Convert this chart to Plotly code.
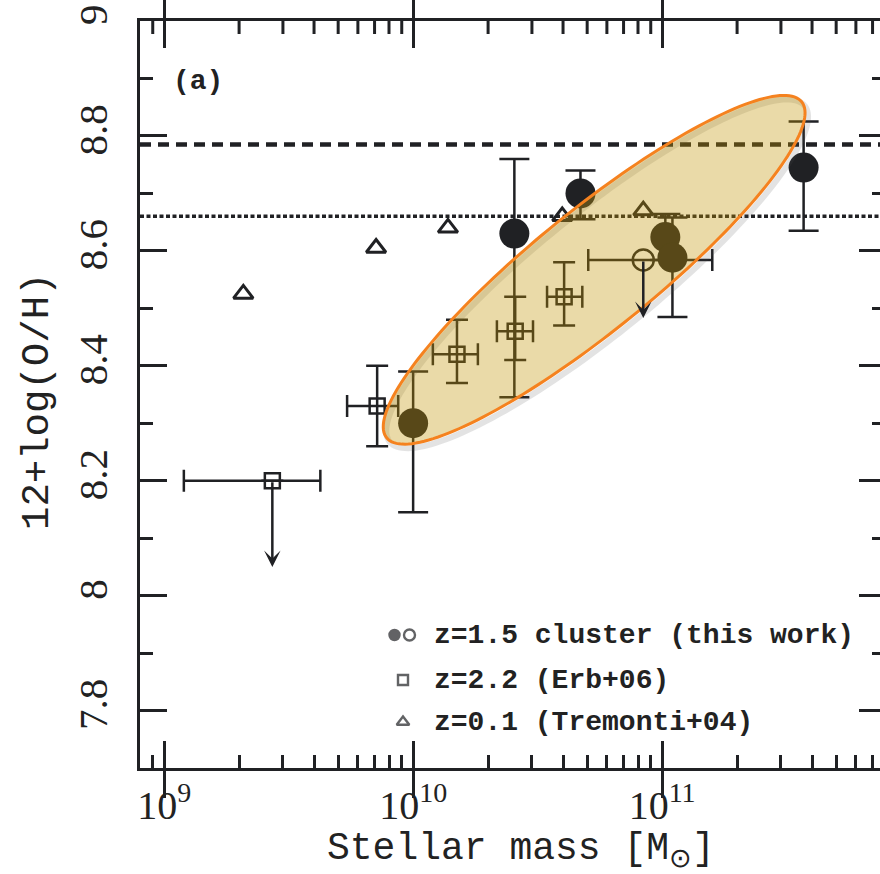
import numpy as np
import plotly.graph_objects as go

# ---------------- data ----------------
# z=1.5 cluster (this work): filled circles
cluster_mass = [1.0e10, 2.55e10, 4.7e10, 1.03e11, 1.10e11, 3.7e11]
cluster_oh = [8.30, 8.63, 8.70, 8.624, 8.588, 8.745]
cluster_err_up = [0.09, 0.13, 0.04, 0.04, 0.07, 0.08]
cluster_err_down = [0.155, 0.285, 0.045, 0.04, 0.103, 0.11]

# z=1.5 cluster stacked point (open circle, upper limit)
stack_mass = [8.4e10]
stack_oh = [8.584]
stack_mass_lo = [5.05e10]
stack_mass_hi = [1.59e11]
stack_limit_tip = [8.483]

# z=2.2 (Erb+06): open squares
erb_mass = [2.72e9, 7.17e9, 1.50e10, 2.57e10, 4.04e10]
erb_oh = [8.20, 8.33, 8.42, 8.46, 8.52]
erb_mass_lo = [1.20e9, 5.43e9, 1.20e10, 2.17e10, 3.45e10]
erb_mass_hi = [4.24e9, 8.71e9, 1.82e10, 3.03e10, 4.78e10]
erb_err_up = [None, 0.07, 0.06, 0.06, 0.06]
erb_err_down = [None, 0.07, 0.05, 0.05, 0.05]
erb_is_limit = [True, False, False, False, False]
erb_limit_tip = [8.05, None, None, None, None]

# z=0.1 (Tremonti+04): open triangles
trem_mass = [2.08e9, 7.1e9, 1.38e10, 3.97e10, 8.4e10]
trem_oh = [8.525, 8.605, 8.64, 8.66, 8.67]

# reference horizontal levels
dashed_level = 8.785
dotted_level = 8.66

x_tick_vals = [1e9, 1e10, 1e11]
x_tick_text = ["10<sup>9</sup>", "10<sup>10</sup>", "10<sup>11</sup>"]
y_tick_vals = [7.8, 8.0, 8.2, 8.4, 8.6, 8.8, 9.0]
y_tick_text = ["7.8", "8", "8.2", "8.4", "8.6", "8.8", "9"]
y_minor_vals = [7.9, 8.1, 8.3, 8.5, 8.7, 8.9]

legend_labels = ["z=1.5 cluster (this work)", "z=2.2 (Erb+06)", "z=0.1 (Tremonti+04)"]

# ---------------- layout geometry ----------------
W, H = 880, 874
ML, MR, MT, MB = 140, 0, 21, 106
PW, PH = W - ML - MR, H - MT - MB
XMIN_LOG = np.log10(8e8)
PX_PER_DEC = 249.0
XMAX_LOG = XMIN_LOG + PW / PX_PER_DEC
Y_RANGE = [7.7, 9.0]

INK = "#202124"
TXT = "#222222"
MONO = "Liberation Mono"

def paper_x(px):
    return (px - ML) / PW

def paper_y(py):
    return (H - MB - py) / PH

x_minor_vals = [k * 10.0 ** n for n in range(8, 12) for k in range(2, 10)
                if XMIN_LOG < np.log10(k * 10.0 ** n) < XMAX_LOG]

fig = go.Figure()

# Tremonti triangles
fig.add_trace(go.Scatter(
    x=trem_mass, y=trem_oh, mode="markers",
    marker=dict(symbol="triangle-up-open", size=17, color=INK, line=dict(width=3, color=INK)),
    showlegend=False, hoverinfo="skip"))

# Erb squares with error bars
erb_xp = [h - m for h, m in zip(erb_mass_hi, erb_mass)]
erb_xm = [m - l for m, l in zip(erb_mass, erb_mass_lo)]
fig.add_trace(go.Scatter(
    x=erb_mass, y=erb_oh, mode="markers",
    marker=dict(symbol="square-open", size=15, color=INK, line=dict(width=2.5, color=INK)),
    error_x=dict(type="data", symmetric=False, array=erb_xp, arrayminus=erb_xm,
                 color=INK, thickness=2.5, width=11),
    error_y=dict(type="data", symmetric=False, array=erb_err_up, arrayminus=erb_err_down,
                 color=INK, thickness=2.5, width=11),
    showlegend=False, hoverinfo="skip"))

# stacked open circle
fig.add_trace(go.Scatter(
    x=stack_mass, y=stack_oh, mode="markers",
    marker=dict(symbol="circle-open", size=21, color=INK, line=dict(width=2.5, color=INK)),
    error_x=dict(type="data", symmetric=False,
                 array=[h - m for h, m in zip(stack_mass_hi, stack_mass)],
                 arrayminus=[m - l for m, l in zip(stack_mass, stack_mass_lo)],
                 color=INK, thickness=2.5, width=11),
    showlegend=False, hoverinfo="skip"))

# cluster filled circles
fig.add_trace(go.Scatter(
    x=cluster_mass, y=cluster_oh, mode="markers",
    marker=dict(symbol="circle", size=30, color=INK, line=dict(width=0)),
    error_y=dict(type="data", symmetric=False, array=cluster_err_up, arrayminus=cluster_err_down,
                 color=INK, thickness=2.5, width=15),
    showlegend=False, hoverinfo="skip"))

# invisible traces that activate the extra tick axes
for xa, ya in [("x3", "y"), ("x", "y2"), ("x", "y4"), ("x", "y5")]:
    fig.add_trace(go.Scatter(x=[1e10], y=[8.5], xaxis=xa, yaxis=ya, mode="markers",
                             marker=dict(opacity=0), showlegend=False, hoverinfo="skip"))

# top-edge minor ticks, drawn on the paper-like overlay axis
top_x, top_y = [], []
for v in x_minor_vals:
    fx = (np.log10(v) - XMIN_LOG) / (XMAX_LOG - XMIN_LOG)
    top_x += [fx, fx, None]
    top_y += [1.0, 1.0 - 13.0 / PH, None]
fig.add_trace(go.Scatter(x=top_x, y=top_y, xaxis="x2", yaxis="y3", mode="lines",
                         line=dict(color=INK, width=3), showlegend=False, hoverinfo="skip"))

# legend symbols on a paper-like overlay axis
leg_y_px = [635, 680, 722]
leg_sym_x = [394.5, 409.5, 403, 403]
leg_sym_y = [leg_y_px[0], leg_y_px[0], leg_y_px[1], leg_y_px[2]]
leg_syms = ["circle", "circle-open", "square-open", "triangle-up-open"]
leg_sizes = [10, 11, 10, 11]
fig.add_trace(go.Scatter(
    x=[paper_x(v) for v in leg_sym_x], y=[paper_y(v) for v in leg_sym_y],
    xaxis="x2", yaxis="y3", mode="markers",
    marker=dict(symbol=leg_syms, size=leg_sizes, color=INK, line=dict(width=2.4, color=INK)),
    showlegend=False, hoverinfo="skip"))

shapes = []
# horizontal reference lines
shapes.append(dict(type="line", xref="paper", yref="y", x0=0, x1=1,
                   y0=dashed_level, y1=dashed_level, layer="below",
                   line=dict(color=INK, width=4.5, dash="11px,7px")))
shapes.append(dict(type="line", xref="paper", yref="y", x0=0, x1=1,
                   y0=dotted_level, y1=dotted_level, layer="below",
                   line=dict(color=INK, width=3.5, dash="4px,2.5px")))

# highlight ellipse (drawn in plot pixel geometry)
ell_c_logm, ell_c_oh = 10.727, 8.567
ell_a, ell_b, ell_ang = 267.0, 60.0, np.deg2rad(39.0)
cx_px = ML + (ell_c_logm - XMIN_LOG) * PX_PER_DEC
cy_px = MT + (Y_RANGE[1] - ell_c_oh) * PH / (Y_RANGE[1] - Y_RANGE[0])
t = np.linspace(0, 2 * np.pi, 181)
e1 = np.array([np.cos(ell_ang), -np.sin(ell_ang)])
e2 = np.array([np.sin(ell_ang), np.cos(ell_ang)])

def ellipse_path(dx=0.0, dy=0.0):
    pts_x = cx_px + dx + ell_a * np.cos(t) * e1[0] + ell_b * np.sin(t) * e2[0]
    pts_y = cy_px + dy + ell_a * np.cos(t) * e1[1] + ell_b * np.sin(t) * e2[1]
    return "M " + " L ".join(f"{paper_x(a):.5f},{paper_y(b):.5f}" for a, b in zip(pts_x, pts_y)) + " Z"

shapes.append(dict(type="path", xref="paper", yref="paper", path=ellipse_path(3, 4), layer="above",
                   fillcolor="rgba(0,0,0,0)", line=dict(color="rgba(80,80,80,0.16)", width=6)))
shapes.append(dict(type="path", xref="paper", yref="paper", path=ellipse_path(), layer="above",
                   fillcolor="rgba(194,147,2,0.345)", line=dict(color="#F5821F", width=3)))

annotations = []
# upper-limit arrows
arrow_style = dict(xref="x", yref="y", axref="x", ayref="y", text="", showarrow=True, arrowhead=3,
                   arrowsize=1.1, arrowwidth=2.5, arrowcolor=INK, standoff=0, startstandoff=0)
for m, v, lim, tip in zip(erb_mass, erb_oh, erb_is_limit, erb_limit_tip):
    if lim:
        annotations.append(dict(x=np.log10(m), y=tip, ax=np.log10(m), ay=v, **arrow_style))
for m, v, tip in zip(stack_mass, stack_oh, stack_limit_tip):
    annotations.append(dict(x=np.log10(m), y=tip, ax=np.log10(m), ay=v, **arrow_style))

# legend text
for lbl, py in zip(legend_labels, leg_y_px):
    annotations.append(dict(x=paper_x(432), y=paper_y(py), xref="paper", yref="paper",
                            xanchor="left", yanchor="middle", text="<b>" + lbl + "</b>", showarrow=False,
                            font=dict(family=MONO, size=28, color=TXT)))
# panel label
annotations.append(dict(x=paper_x(198), y=paper_y(81), xref="paper", yref="paper",
                        xanchor="center", yanchor="middle", text="<b>(a)</b>", showarrow=False,
                        font=dict(family=MONO, size=28, color=TXT)))
# axis titles
annotations.append(dict(x=paper_x(521), y=paper_y(851), xref="paper", yref="paper",
                        xanchor="center", yanchor="middle", text="Stellar mass [M<sub>⊙</sub>]",
                        showarrow=False, font=dict(family=MONO, size=38, color=TXT)))
annotations.append(dict(x=paper_x(38), y=paper_y(402), xref="paper", yref="paper",
                        xanchor="center", yanchor="middle", text="12+log(O/H)", textangle=-90,
                        showarrow=False, font=dict(family=MONO, size=39, color=TXT)))

tick_common = dict(showgrid=False, zeroline=False, ticks="inside", tickwidth=3, tickcolor=INK)
x_common = dict(type="log", range=[XMIN_LOG, XMAX_LOG], tickmode="array", **tick_common)
y_common = dict(range=Y_RANGE, tickmode="array", **tick_common)

fig.update_layout(
    width=W, height=H, margin=dict(l=ML, r=MR, t=MT, b=MB, pad=0),
    paper_bgcolor="white", plot_bgcolor="white",
    showlegend=False,
    xaxis=dict(tickvals=x_tick_vals, ticktext=x_tick_text, ticklen=27,
               showline=True, linecolor=INK, linewidth=3, mirror="allticks",
               tickfont=dict(family="Liberation Serif", size=40, color=TXT),
               ticklabelstandoff=0, **x_common),
    xaxis3=dict(tickvals=x_minor_vals, ticklen=13, overlaying="x", anchor="y", side="bottom",
                showticklabels=False, showline=False, **x_common),
    yaxis=dict(tickvals=y_tick_vals, ticktext=y_tick_text,
               tickangle=-90, ticklen=27, showline=True, linecolor=INK, linewidth=3,
               mirror=False, tickfont=dict(family="Liberation Serif", size=41, color=TXT),
               ticklabelstandoff=14, **y_common),
    yaxis4=dict(tickvals=y_minor_vals, ticklen=13, overlaying="y", side="left", anchor="x",
                showticklabels=False, showline=False, **y_common),
    yaxis2=dict(tickvals=y_tick_vals, ticklen=21, overlaying="y", side="right", anchor="x",
                showticklabels=False, showline=False, **y_common),
    yaxis5=dict(tickvals=y_minor_vals, ticklen=8, overlaying="y", side="right", anchor="x",
                showticklabels=False, showline=False, **y_common),
    xaxis2=dict(range=[0, 1], overlaying="x", visible=False),
    yaxis3=dict(range=[0, 1], overlaying="y", visible=False),
    shapes=shapes, annotations=annotations,
)

fig.write_html("out.html")
